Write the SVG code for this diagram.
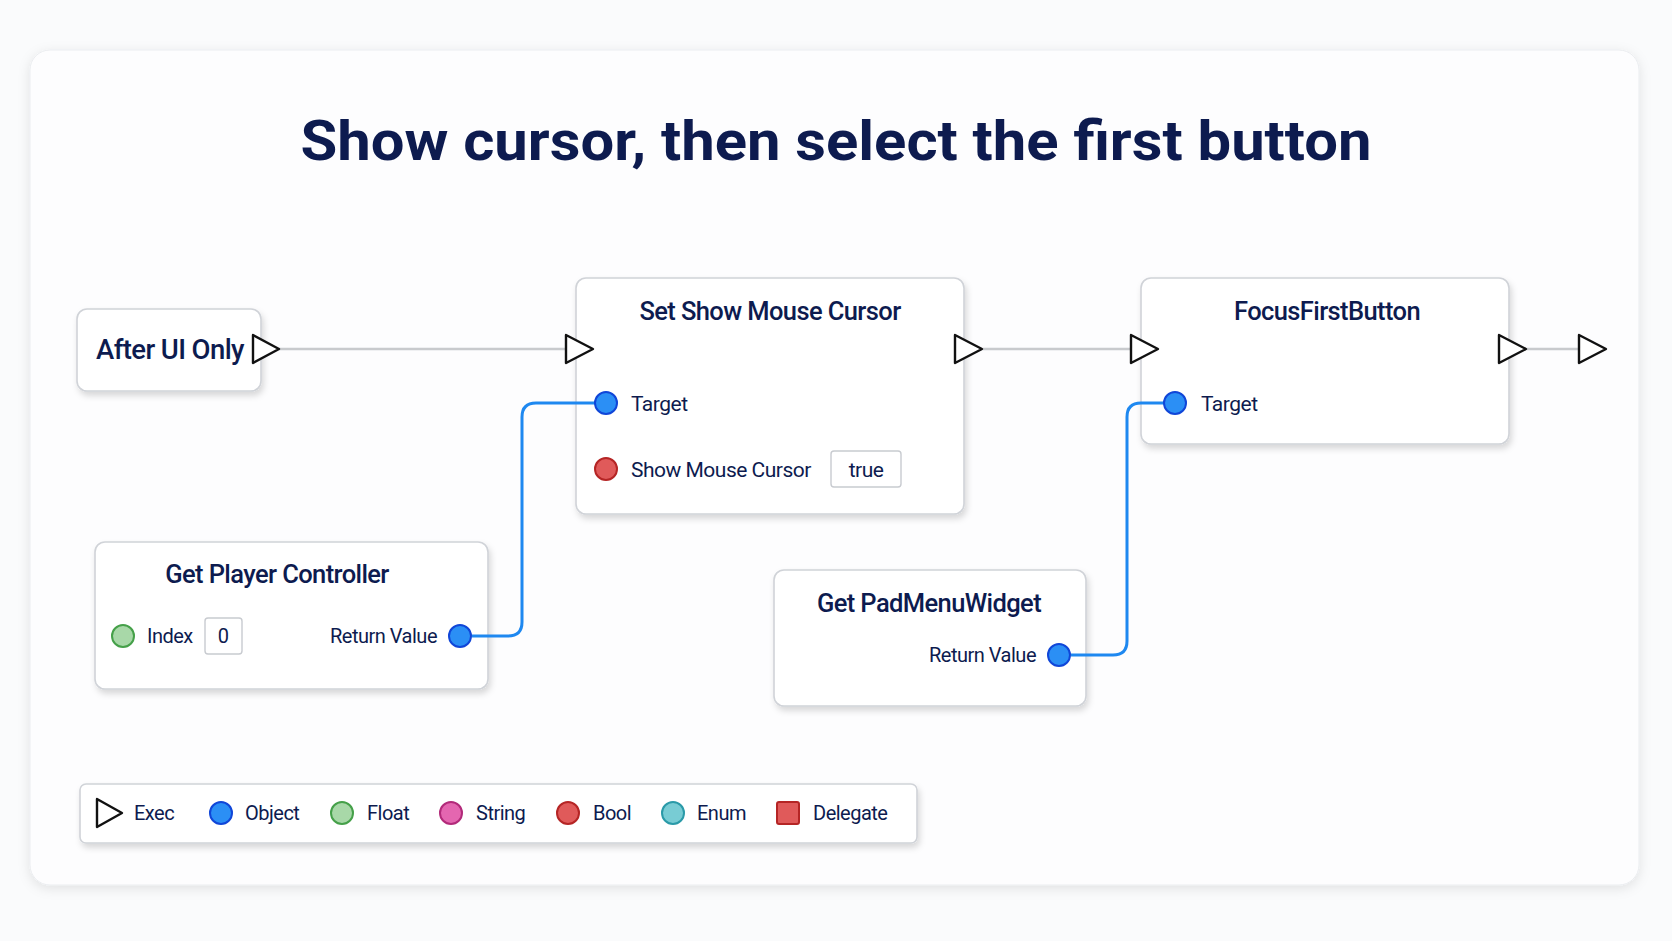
<svg xmlns="http://www.w3.org/2000/svg" width="1672" height="941" viewBox="0 0 1672 941">
<defs>
<filter id="sh" x="-10%" y="-10%" width="130%" height="140%"><feDropShadow dx="2" dy="4" stdDeviation="3" flood-color="#000" flood-opacity="0.15"/></filter>
<filter id="sh2" x="-5%" y="-5%" width="110%" height="115%"><feDropShadow dx="0" dy="3" stdDeviation="6" flood-color="#000" flood-opacity="0.1"/></filter>
</defs>
<style>
text{font-family:Roboto,"Liberation Sans",sans-serif;fill:#0d1b4f}
.node{fill:#fff;stroke:#d0d3d8;stroke-width:1.6}
.t{font-size:25.5px;font-weight:500;letter-spacing:-0.6px}
.l{font-size:21px;letter-spacing:-0.5px}
.g{font-size:20px;letter-spacing:-0.5px}
.exec{fill:#fff;stroke:#111;stroke-width:2.4;stroke-linejoin:round}
.ew{stroke:#c8cacd;stroke-width:2.5;fill:none}
.dw{stroke:#1e88f0;stroke-width:3;fill:none}
.obj{fill:#2b8ff5;stroke:#1046d8;stroke-width:2}
.flt{fill:#a8d8a8;stroke:#45a049;stroke-width:2}
.str{fill:#e466b0;stroke:#b22a7a;stroke-width:2}
.bool{fill:#e05a5a;stroke:#b52525;stroke-width:2}
.enm{fill:#78ccd4;stroke:#2a9aa8;stroke-width:2}
.box{fill:#fff;stroke:#c8cbd0;stroke-width:1.4}
</style>
<rect width="1672" height="941" fill="#fafbfc"/>
<rect x="30" y="50" width="1609" height="835" rx="20" fill="#fdfdfe" stroke="#ebedf0" filter="url(#sh2)"/>
<text x="836" y="160" text-anchor="middle" font-size="56" font-weight="700" textLength="1071" lengthAdjust="spacingAndGlyphs">Show cursor, then select the first button</text>
<g id="after-ui-only">
<rect class="node" x="77" y="309" width="184" height="82" rx="10" filter="url(#sh)"/>
<text class="t" x="96" y="359" style="font-size:27.5px">After UI Only</text>
</g>
<g id="set-show-mouse-cursor">
<rect class="node" x="576" y="278" width="388" height="236" rx="10" filter="url(#sh)"/>
<text class="t" x="770" y="320" text-anchor="middle">Set Show Mouse Cursor</text>
<circle class="bool" cx="606" cy="469" r="11"/>
<text class="l" x="631" y="477">Show Mouse Cursor</text>
<rect class="box" x="831" y="451" width="70" height="36" rx="3"/>
<text class="l" x="866" y="477" text-anchor="middle">true</text>
<text class="l" x="631" y="411">Target</text>
</g>
<g id="focus-first-button">
<rect class="node" x="1141" y="278" width="368" height="166" rx="10" filter="url(#sh)"/>
<text class="t" x="1327" y="320" text-anchor="middle">FocusFirstButton</text>
<text class="l" x="1201" y="411">Target</text>
</g>
<g id="get-player-controller">
<rect class="node" x="95" y="542" width="393" height="147" rx="10" filter="url(#sh)"/>
<text class="t" x="277" y="583" text-anchor="middle">Get Player Controller</text>
<circle class="flt" cx="123" cy="636" r="11"/>
<text class="g" x="147" y="643">Index</text>
<rect class="box" x="205" y="618" width="37" height="36" rx="3"/>
<text class="g" x="223" y="643" text-anchor="middle">0</text>
<text class="g" x="437" y="643" text-anchor="end">Return Value</text>
</g>
<g id="get-pad-menu-widget">
<rect class="node" x="774" y="570" width="312" height="136" rx="10" filter="url(#sh)"/>
<text class="t" x="929" y="612" text-anchor="middle">Get PadMenuWidget</text>
<text class="g" x="1036" y="662" text-anchor="end">Return Value</text>
</g>
<g id="connectors">
<line class="ew" x1="279" y1="349" x2="566" y2="349"/>
<line class="ew" x1="983" y1="349" x2="1131" y2="349"/>
<line class="ew" x1="1527" y1="349" x2="1579" y2="349"/>
<path class="dw" d="M472 636 H508 Q522 636 522 622 V417 Q522 403 536 403 H595"/>
<path class="dw" d="M1071 655 H1113 Q1127 655 1127 641 V417 Q1127 403 1141 403 H1164"/>
</g>
<g id="pins">
<path class="exec" d="M253 335 L279 349 L253 363 Z"/>
<path class="exec" d="M566 335 L593 349 L566 363 Z"/>
<path class="exec" d="M955 335 L982 349 L955 363 Z"/>
<path class="exec" d="M1131 335 L1158 349 L1131 363 Z"/>
<path class="exec" d="M1499 335 L1526 349 L1499 363 Z"/>
<path class="exec" d="M1579 335 L1606 349 L1579 363 Z"/>
<circle class="obj" cx="606" cy="403" r="11"/>
<circle class="obj" cx="1175" cy="403" r="11"/>
<circle class="obj" cx="460" cy="636" r="11"/>
<circle class="obj" cx="1059" cy="655" r="11"/>
</g>
<g id="legend">
<rect class="node" x="80" y="784" width="837" height="59" rx="6" filter="url(#sh)"/>
<path class="exec" d="M97 799 L122 813 L97 827 Z" stroke-width="1.6" stroke="#666"/>
<text class="g" x="134" y="820">Exec</text>
<circle class="obj" cx="221" cy="813" r="11"/>
<text class="g" x="245" y="820">Object</text>
<circle class="flt" cx="342" cy="813" r="11"/>
<text class="g" x="367" y="820">Float</text>
<circle class="str" cx="451" cy="813" r="11"/>
<text class="g" x="476" y="820">String</text>
<circle class="bool" cx="568" cy="813" r="11"/>
<text class="g" x="593" y="820">Bool</text>
<circle class="enm" cx="673" cy="813" r="11"/>
<text class="g" x="697" y="820">Enum</text>
<rect class="bool" x="777" y="802" width="22" height="22" rx="2"/>
<text class="g" x="813" y="820">Delegate</text>
</g>
</svg>
